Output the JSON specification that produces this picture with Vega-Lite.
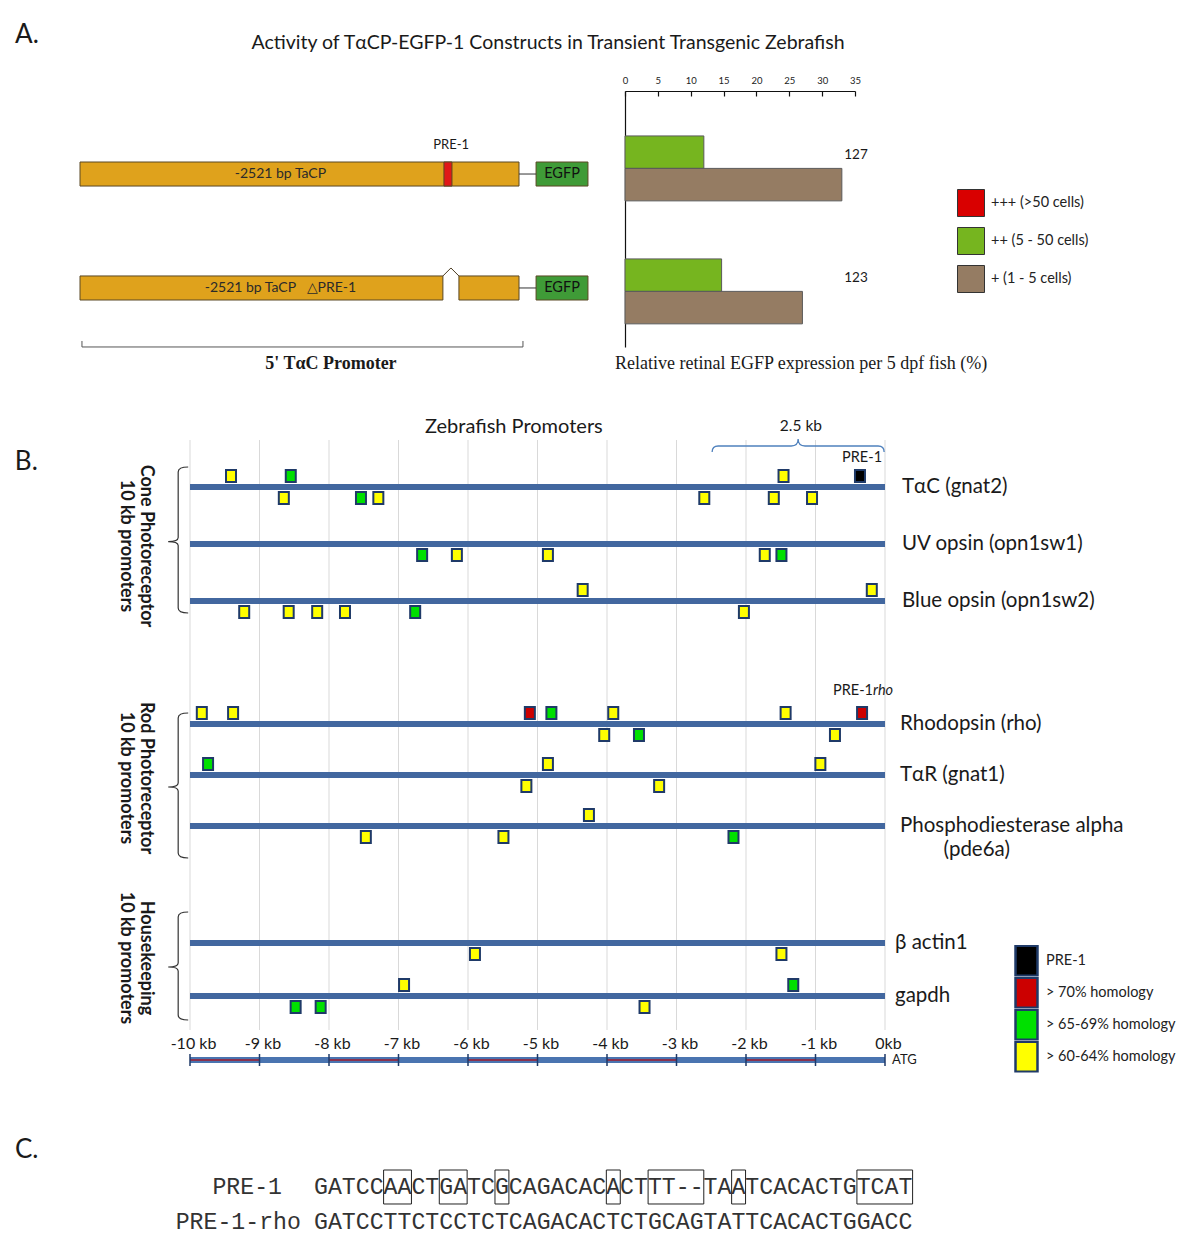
{
"$schema":"https://vega.github.io/schema/vega-lite/v6.json",
"width":1200,"height":1247,
"autosize":{"type":"none"},
"padding":0,
"background":"white",
"config":{"view":{"stroke":null},"font":"Lato","text":{"font":"Lato","color":"#1a1a1a"}},
"datasets":{
 "parts":[
  {"construct":"TαCP-EGFP-1","part":"promoter","start":-2521,"end":0},
  {"construct":"TαCP-EGFP-1","part":"PRE-1","start":-431,"end":-385},
  {"construct":"TαCP-EGFP-1","part":"EGFP","start":98,"end":396},
  {"construct":"TαCP-ΔPRE-1-EGFP-1","part":"promoter","start":-2521,"end":-437},
  {"construct":"TαCP-ΔPRE-1-EGFP-1","part":"promoter","start":-345,"end":0},
  {"construct":"TαCP-ΔPRE-1-EGFP-1","part":"EGFP","start":98,"end":396}
 ],
 "constructs":[
  {"construct":"TαCP-EGFP-1","label":"-2521 bp TaCP","deleted":false,"n":127},
  {"construct":"TαCP-ΔPRE-1-EGFP-1","label":"-2521 bp TaCP\u2003△PRE-1","deleted":true,"n":123}
 ],
 "bars":[
  {"construct":"TαCP-EGFP-1","level":"++ (5 - 50 cells)","pct":12.0},
  {"construct":"TαCP-EGFP-1","level":"+ (1 - 5 cells)","pct":33.0},
  {"construct":"TαCP-ΔPRE-1-EGFP-1","level":"++ (5 - 50 cells)","pct":14.7},
  {"construct":"TαCP-ΔPRE-1-EGFP-1","level":"+ (1 - 5 cells)","pct":27.0}
 ],
 "genes":[
  {"gene":"TαC (gnat2)","group":"cone"},
  {"gene":"UV opsin (opn1sw1)","group":"cone"},
  {"gene":"Blue opsin (opn1sw2)","group":"cone"},
  {"gene":"Rhodopsin (rho)","group":"rod"},
  {"gene":"TαR (gnat1)","group":"rod"},
  {"gene":"Phosphodiesterase alpha","group":"rod"},
  {"gene":"β actin1","group":"housekeeping"},
  {"gene":"gapdh","group":"housekeeping"}
 ],
 "sites":[
  {"gene":"TαC (gnat2)","group":"cone","kb":-9.41,"strand":"above","homology":"> 60-64% homology"},
  {"gene":"TαC (gnat2)","group":"cone","kb":-8.55,"strand":"above","homology":"> 65-69% homology"},
  {"gene":"TαC (gnat2)","group":"cone","kb":-1.46,"strand":"above","homology":"> 60-64% homology"},
  {"gene":"TαC (gnat2)","group":"cone","kb":-0.36,"strand":"above","homology":"PRE-1"},
  {"gene":"TαC (gnat2)","group":"cone","kb":-8.65,"strand":"below","homology":"> 60-64% homology"},
  {"gene":"TαC (gnat2)","group":"cone","kb":-7.54,"strand":"below","homology":"> 65-69% homology"},
  {"gene":"TαC (gnat2)","group":"cone","kb":-7.29,"strand":"below","homology":"> 60-64% homology"},
  {"gene":"TαC (gnat2)","group":"cone","kb":-2.60,"strand":"below","homology":"> 60-64% homology"},
  {"gene":"TαC (gnat2)","group":"cone","kb":-1.60,"strand":"below","homology":"> 60-64% homology"},
  {"gene":"TαC (gnat2)","group":"cone","kb":-1.05,"strand":"below","homology":"> 60-64% homology"},
  {"gene":"UV opsin (opn1sw1)","group":"cone","kb":-6.66,"strand":"below","homology":"> 65-69% homology"},
  {"gene":"UV opsin (opn1sw1)","group":"cone","kb":-6.16,"strand":"below","homology":"> 60-64% homology"},
  {"gene":"UV opsin (opn1sw1)","group":"cone","kb":-4.85,"strand":"below","homology":"> 60-64% homology"},
  {"gene":"UV opsin (opn1sw1)","group":"cone","kb":-1.73,"strand":"below","homology":"> 60-64% homology"},
  {"gene":"UV opsin (opn1sw1)","group":"cone","kb":-1.49,"strand":"below","homology":"> 65-69% homology"},
  {"gene":"Blue opsin (opn1sw2)","group":"cone","kb":-4.35,"strand":"above","homology":"> 60-64% homology"},
  {"gene":"Blue opsin (opn1sw2)","group":"cone","kb":-0.19,"strand":"above","homology":"> 60-64% homology"},
  {"gene":"Blue opsin (opn1sw2)","group":"cone","kb":-9.22,"strand":"below","homology":"> 60-64% homology"},
  {"gene":"Blue opsin (opn1sw2)","group":"cone","kb":-8.58,"strand":"below","homology":"> 60-64% homology"},
  {"gene":"Blue opsin (opn1sw2)","group":"cone","kb":-8.17,"strand":"below","homology":"> 60-64% homology"},
  {"gene":"Blue opsin (opn1sw2)","group":"cone","kb":-7.77,"strand":"below","homology":"> 60-64% homology"},
  {"gene":"Blue opsin (opn1sw2)","group":"cone","kb":-6.76,"strand":"below","homology":"> 65-69% homology"},
  {"gene":"Blue opsin (opn1sw2)","group":"cone","kb":-2.03,"strand":"below","homology":"> 60-64% homology"},
  {"gene":"Rhodopsin (rho)","group":"rod","kb":-9.83,"strand":"above","homology":"> 60-64% homology"},
  {"gene":"Rhodopsin (rho)","group":"rod","kb":-9.38,"strand":"above","homology":"> 60-64% homology"},
  {"gene":"Rhodopsin (rho)","group":"rod","kb":-5.11,"strand":"above","homology":"> 70% homology"},
  {"gene":"Rhodopsin (rho)","group":"rod","kb":-4.80,"strand":"above","homology":"> 65-69% homology"},
  {"gene":"Rhodopsin (rho)","group":"rod","kb":-3.91,"strand":"above","homology":"> 60-64% homology"},
  {"gene":"Rhodopsin (rho)","group":"rod","kb":-1.43,"strand":"above","homology":"> 60-64% homology"},
  {"gene":"Rhodopsin (rho)","group":"rod","kb":-0.33,"strand":"above","homology":"> 70% homology"},
  {"gene":"Rhodopsin (rho)","group":"rod","kb":-4.04,"strand":"below","homology":"> 60-64% homology"},
  {"gene":"Rhodopsin (rho)","group":"rod","kb":-3.54,"strand":"below","homology":"> 65-69% homology"},
  {"gene":"Rhodopsin (rho)","group":"rod","kb":-0.72,"strand":"below","homology":"> 60-64% homology"},
  {"gene":"TαR (gnat1)","group":"rod","kb":-9.74,"strand":"above","homology":"> 65-69% homology"},
  {"gene":"TαR (gnat1)","group":"rod","kb":-4.85,"strand":"above","homology":"> 60-64% homology"},
  {"gene":"TαR (gnat1)","group":"rod","kb":-0.93,"strand":"above","homology":"> 60-64% homology"},
  {"gene":"TαR (gnat1)","group":"rod","kb":-5.16,"strand":"below","homology":"> 60-64% homology"},
  {"gene":"TαR (gnat1)","group":"rod","kb":-3.25,"strand":"below","homology":"> 60-64% homology"},
  {"gene":"Phosphodiesterase alpha","group":"rod","kb":-4.26,"strand":"above","homology":"> 60-64% homology"},
  {"gene":"Phosphodiesterase alpha","group":"rod","kb":-7.47,"strand":"below","homology":"> 60-64% homology"},
  {"gene":"Phosphodiesterase alpha","group":"rod","kb":-5.49,"strand":"below","homology":"> 60-64% homology"},
  {"gene":"Phosphodiesterase alpha","group":"rod","kb":-2.18,"strand":"below","homology":"> 65-69% homology"},
  {"gene":"β actin1","group":"housekeeping","kb":-5.90,"strand":"below","homology":"> 60-64% homology"},
  {"gene":"β actin1","group":"housekeeping","kb":-1.49,"strand":"below","homology":"> 60-64% homology"},
  {"gene":"gapdh","group":"housekeeping","kb":-6.92,"strand":"above","homology":"> 60-64% homology"},
  {"gene":"gapdh","group":"housekeeping","kb":-1.32,"strand":"above","homology":"> 65-69% homology"},
  {"gene":"gapdh","group":"housekeeping","kb":-8.48,"strand":"below","homology":"> 65-69% homology"},
  {"gene":"gapdh","group":"housekeeping","kb":-8.12,"strand":"below","homology":"> 65-69% homology"},
  {"gene":"gapdh","group":"housekeeping","kb":-3.46,"strand":"below","homology":"> 60-64% homology"}
 ],
 "rulerRed":[{"start":-10,"end":-9},{"start":-8,"end":-7},{"start":-6,"end":-5},{"start":-4,"end":-3},{"start":-2,"end":-1}],
 "kbMarks":[{"kb":-10},{"kb":-9},{"kb":-8},{"kb":-7},{"kb":-6},{"kb":-5},{"kb":-4},{"kb":-3},{"kb":-2},{"kb":-1},{"kb":0}],
 "seqs":[
  {"name":"PRE-1","seq":"GATCCAACTGATCGCAGACACACTTT--TAATCACACTGTCAT"},
  {"name":"PRE-1-rho","seq":"GATCCTTCTCCTCTCAGACACTCTGCAGTATTCACACTGGACC"}
 ],
 "boxes":[{"start":5,"end":7},{"start":9,"end":11},{"start":13,"end":14},{"start":21,"end":22},{"start":24,"end":28},{"start":30,"end":31},{"start":39,"end":43}]
},
"resolve":{
 "scale":{"x":"independent","y":"independent","color":"independent","fill":"independent","shape":"independent","yOffset":"independent"},
 "axis":{"x":"independent","y":"independent"},
 "legend":{"color":"independent","fill":"independent","shape":"independent"}
},
"layer":[
 {"layer":[
  {"data":{"name":"parts"},
   "mark":{"type":"rect","stroke":"#5a4824","strokeWidth":1},
   "encoding":{
    "x":{"field":"start","type":"quantitative","scale":{"domain":[-2521,0],"range":[80,519],"nice":false,"zero":false},"axis":null},
    "x2":{"field":"end"},
    "y":{"field":"construct","type":"nominal","scale":{"type":"band","domain":["TαCP-EGFP-1","TαCP-ΔPRE-1-EGFP-1"],"range":[162,300],"paddingInner":0.789,"paddingOuter":0},"axis":null},
    "color":{"field":"part","type":"nominal","scale":{"domain":["promoter","PRE-1","EGFP"],"range":["#dfa21c","#e01818","#3f9b37"]},"legend":null}}},
  {"data":{"name":"constructs"},
   "mark":{"type":"rule","color":"#333333","strokeWidth":1},
   "encoding":{
    "x":{"datum":0,"type":"quantitative","scale":{"domain":[-2521,0],"range":[80,519],"nice":false,"zero":false},"axis":null},
    "x2":{"datum":98},
    "y":{"field":"construct","type":"nominal","scale":{"type":"band","domain":["TαCP-EGFP-1","TαCP-ΔPRE-1-EGFP-1"],"range":[162,300],"paddingInner":0.789,"paddingOuter":0},"axis":null}}},
  {"data":{"name":"constructs"},
   "mark":{"type":"text","fontSize":14,"color":"#2a2a2a"},
   "encoding":{
    "x":{"datum":-1370,"type":"quantitative","scale":{"domain":[-2521,0],"range":[80,519],"nice":false,"zero":false},"axis":null},
    "y":{"field":"construct","type":"nominal","scale":{"type":"band","domain":["TαCP-EGFP-1","TαCP-ΔPRE-1-EGFP-1"],"range":[162,300],"paddingInner":0.789,"paddingOuter":0},"axis":null},
    "text":{"field":"label"}}},
  {"data":{"name":"constructs"},
   "mark":{"type":"text","fontSize":14.5,"color":"#111111","text":"EGFP"},
   "encoding":{
    "x":{"datum":247,"type":"quantitative","scale":{"domain":[-2521,0],"range":[80,519],"nice":false,"zero":false},"axis":null},
    "y":{"field":"construct","type":"nominal","scale":{"type":"band","domain":["TαCP-EGFP-1","TαCP-ΔPRE-1-EGFP-1"],"range":[162,300],"paddingInner":0.789,"paddingOuter":0},"axis":null}}},
  {"data":{"name":"constructs"},
   "transform":[{"filter":"datum.deleted"}],
   "mark":{"type":"point","shape":"M-0.4,-0.6L0,-1L0.4,-0.6","size":1600,"filled":false,"opacity":1,"color":"#4a3a20","strokeWidth":1},
   "encoding":{
    "x":{"datum":-391,"type":"quantitative","scale":{"domain":[-2521,0],"range":[80,519],"nice":false,"zero":false},"axis":null},
    "y":{"field":"construct","type":"nominal","scale":{"type":"band","domain":["TαCP-EGFP-1","TαCP-ΔPRE-1-EGFP-1"],"range":[162,300],"paddingInner":0.789,"paddingOuter":0},"axis":null}}},
  {"data":{"values":[{"t":"PRE-1"}]},
   "mark":{"type":"text","fontSize":13,"dy":-29},
   "encoding":{
    "x":{"datum":-390,"type":"quantitative","scale":{"domain":[-2521,0],"range":[80,519],"nice":false,"zero":false},"axis":null},
    "y":{"datum":"TαCP-EGFP-1","type":"nominal","scale":{"type":"band","domain":["TαCP-EGFP-1","TαCP-ΔPRE-1-EGFP-1"],"range":[162,300],"paddingInner":0.789,"paddingOuter":0},"axis":null},
    "text":{"field":"t"}}},
  {"data":{"values":[{"t":"A."}]},
   "mark":{"type":"text","fontSize":26,"align":"left","dy":-139},
   "encoding":{
    "x":{"datum":-2894,"type":"quantitative","scale":{"domain":[-2521,0],"range":[80,519],"nice":false,"zero":false},"axis":null},
    "y":{"datum":"TαCP-EGFP-1","type":"nominal","scale":{"type":"band","domain":["TαCP-EGFP-1","TαCP-ΔPRE-1-EGFP-1"],"range":[162,300],"paddingInner":0.789,"paddingOuter":0},"axis":null},
    "text":{"field":"t"}}},
  {"data":{"values":[{"t":"Activity of TαCP-EGFP-1 Constructs in Transient Transgenic Zebrafish"}]},
   "mark":{"type":"text","fontSize":19.5,"dy":-131},
   "encoding":{
    "x":{"datum":166.5,"type":"quantitative","scale":{"domain":[-2521,0],"range":[80,519],"nice":false,"zero":false},"axis":null},
    "y":{"datum":"TαCP-EGFP-1","type":"nominal","scale":{"type":"band","domain":["TαCP-EGFP-1","TαCP-ΔPRE-1-EGFP-1"],"range":[162,300],"paddingInner":0.789,"paddingOuter":0},"axis":null},
    "text":{"field":"t"}}},
  {"data":{"values":[{"t":"5' TαC Promoter"}]},
   "mark":{"type":"text","font":"Liberation Serif","fontWeight":"bold","fontSize":18,"dy":76},
   "encoding":{
    "x":{"datum":-1080,"type":"quantitative","scale":{"domain":[-2521,0],"range":[80,519],"nice":false,"zero":false},"axis":null},
    "y":{"datum":"TαCP-ΔPRE-1-EGFP-1","type":"nominal","scale":{"type":"band","domain":["TαCP-EGFP-1","TαCP-ΔPRE-1-EGFP-1"],"range":[162,300],"paddingInner":0.789,"paddingOuter":0},"axis":null},
    "text":{"field":"t"}}},
  {"data":{"values":[{"t":"5' TαC Promoter"}]},
   "mark":{"type":"point","shape":"M-1,0.2404V0.2676H1V0.2404","size":194481,"filled":false,"opacity":1,"color":"#555555","strokeWidth":1},
   "encoding":{
    "x":{"datum":-1243.5,"type":"quantitative","scale":{"domain":[-2521,0],"range":[80,519],"nice":false,"zero":false},"axis":null},
    "y":{"datum":"TαCP-ΔPRE-1-EGFP-1","type":"nominal","scale":{"type":"band","domain":["TαCP-EGFP-1","TαCP-ΔPRE-1-EGFP-1"],"range":[162,300],"paddingInner":0.789,"paddingOuter":0},"axis":null}}}
 ]},
 {"layer":[
  {"data":{"name":"bars"},
   "mark":{"type":"bar","stroke":"#5a5a5a","strokeWidth":1},
   "encoding":{
    "x":{"field":"pct","type":"quantitative","scale":{"domain":[0,35],"range":[625,855],"nice":false,"zero":true},
     "axis":{"orient":"top","offset":-91,"values":[0,5,10,15,20,25,30,35],"grid":false,"domainColor":"#111111","domainWidth":1.2,"tickColor":"#111111","tickSize":-5,"tickWidth":1.2,"labelFontSize":9.5,"labelFont":"Lato","labelColor":"#222222","labelPadding":11,"labelFlush":false,"labelOverlap":false,"title":null}},
    "y":{"field":"construct","type":"nominal","scale":{"type":"band","domain":["TαCP-EGFP-1","TαCP-ΔPRE-1-EGFP-1"],"range":[91,347],"paddingInner":0.472,"paddingOuter":0.2767,"align":0.66},
     "axis":{"orient":"left","offset":-625,"labels":false,"ticks":false,"grid":false,"domainColor":"#111111","domainWidth":1.2,"title":null}},
    "yOffset":{"field":"level","type":"nominal","scale":{"domain":["++ (5 - 50 cells)","+ (1 - 5 cells)"],"paddingInner":0,"paddingOuter":0}},
    "color":{"field":"level","type":"nominal","scale":{"domain":["+++ (>50 cells)","++ (5 - 50 cells)","+ (1 - 5 cells)"],"range":["#d90000","#76b51f","#957c63"]},
     "legend":{"orient":"none","legendX":957,"legendY":189,"title":null,"symbolType":"square","symbolSize":729,"symbolStrokeColor":"#333333","symbolStrokeWidth":1,"symbolOpacity":1,"labelFontSize":14.5,"labelFont":"Lato","labelColor":"#222222","rowPadding":6,"labelOffset":6,"padding":0}}}},
  {"data":{"name":"constructs"},
   "mark":{"type":"text","fontSize":13.5,"dy":-13},
   "encoding":{
    "x":{"datum":35.15,"type":"quantitative","scale":{"domain":[0,35],"range":[625,855],"nice":false,"zero":true}},
    "y":{"field":"construct","type":"nominal","scale":{"type":"band","domain":["TαCP-EGFP-1","TαCP-ΔPRE-1-EGFP-1"],"range":[91,347],"paddingInner":0.472,"paddingOuter":0.2767,"align":0.66}},
    "text":{"field":"n"}}},
  {"data":{"values":[{"t":"Relative retinal EGFP expression per 5 dpf fish (%)"}]},
   "mark":{"type":"text","font":"Liberation Serif","fontSize":18,"dy":73},
   "encoding":{
    "x":{"datum":26.8,"type":"quantitative","scale":{"domain":[0,35],"range":[625,855],"nice":false,"zero":true}},
    "y":{"datum":"TαCP-ΔPRE-1-EGFP-1","type":"nominal","scale":{"type":"band","domain":["TαCP-EGFP-1","TαCP-ΔPRE-1-EGFP-1"],"range":[91,347],"paddingInner":0.472,"paddingOuter":0.2767,"align":0.66}},
    "text":{"field":"t"}}}
 ]},
 {"layer":[
  {"data":{"name":"kbMarks"},
   "mark":{"type":"rule","color":"#d9d9d9","strokeWidth":1},
   "encoding":{
    "x":{"field":"kb","type":"quantitative","scale":{"domain":[-10,0],"range":[190,885],"nice":false,"zero":false},
     "axis":{"orient":"bottom","offset":-215,"values":[-10,-9,-8,-7,-6,-5,-4,-3,-2,-1,0],"labelExpr":"datum.value === 0 ? '0kb' : datum.value + ' kb'","domain":false,"ticks":false,"grid":false,"labelFontSize":16,"labelFont":"Lato","labelColor":"#1a1a1a","labelPadding":3,"labelOffset":3,"labelFlush":false,"labelOverlap":false,"labelBound":false,"title":null}},
    "y":{"datum":"top","type":"nominal","scale":{"type":"point","domain":["top","bottom"],"range":[440,1030],"padding":0},"axis":null},
    "y2":{"datum":"bottom"}}}
 ]},
 {"layer":[
  {"data":{"name":"genes"},
   "transform":[{"filter":"datum.group === 'cone'"}],
   "mark":{"type":"rule","strokeWidth":6,"color":"#42679f"},
   "encoding":{
    "x":{"datum":-10,"type":"quantitative","scale":{"domain":[-10,0],"range":[190,885],"nice":false,"zero":false},"axis":null},
    "x2":{"datum":0},
    "y":{"field":"gene","type":"nominal","scale":{"type":"point","domain":["TαC (gnat2)","UV opsin (opn1sw1)","Blue opsin (opn1sw2)"],"range":[487,601],"padding":0},"axis":null}}},
  {"data":{"name":"sites"},
   "transform":[{"filter":"datum.group === 'cone'"}],
   "mark":{"type":"point","filled":true,"opacity":1,"size":1600,"stroke":"#1f3a68","strokeWidth":2},
   "encoding":{
    "x":{"field":"kb","type":"quantitative","scale":{"domain":[-10,0],"range":[190,885],"nice":false,"zero":false},"axis":null},
    "y":{"field":"gene","type":"nominal","scale":{"type":"point","domain":["TαC (gnat2)","UV opsin (opn1sw1)","Blue opsin (opn1sw2)"],"range":[487,601],"padding":0},"axis":null},
    "shape":{"field":"strand","type":"nominal","scale":{"domain":["above","below"],"range":["M-0.25,-0.85H0.25V-0.25H-0.25Z","M-0.25,0.25H0.25V0.85H-0.25Z"]},"legend":null},
    "fill":{"field":"homology","type":"nominal","scale":{"domain":["PRE-1","> 70% homology","> 65-69% homology","> 60-64% homology"],"range":["#000000","#cc0000","#00e000","#ffff00"]},
     "legend":{"orient":"none","legendX":1010,"legendY":945,"title":null,"symbolType":"M-0.733,-1H0.733V1H-0.733Z","symbolSize":900,"symbolStrokeColor":"#1f3a68","symbolStrokeWidth":2.5,"symbolOpacity":1,"labelFontSize":14.5,"labelFont":"Lato","labelColor":"#222222","labelOffset":3,"rowPadding":0,"clipHeight":31.6,"padding":0}}}},
  {"data":{"name":"genes"},
   "transform":[{"filter":"datum.group === 'cone'"}],
   "mark":{"type":"text","align":"left","dx":17,"fontSize":20.5,"color":"#1a1a1a"},
   "encoding":{
    "x":{"datum":0,"type":"quantitative","scale":{"domain":[-10,0],"range":[190,885],"nice":false,"zero":false},"axis":null},
    "y":{"field":"gene","type":"nominal","scale":{"type":"point","domain":["TαC (gnat2)","UV opsin (opn1sw1)","Blue opsin (opn1sw2)"],"range":[487,601],"padding":0},"axis":null},
    "text":{"field":"gene"}}},
  {"data":{"values":[{"t":"B."}]},
   "mark":{"type":"text","fontSize":26,"align":"left","dy":-25},
   "encoding":{
    "x":{"datum":-12.52,"type":"quantitative","scale":{"domain":[-10,0],"range":[190,885],"nice":false,"zero":false},"axis":null},
    "y":{"datum":"TαC (gnat2)","type":"nominal","scale":{"type":"point","domain":["TαC (gnat2)","UV opsin (opn1sw1)","Blue opsin (opn1sw2)"],"range":[487,601],"padding":0},"axis":null},
    "text":{"field":"t"}}},
  {"data":{"values":[{"t":"Zebrafish Promoters"}]},
   "mark":{"type":"text","fontSize":20,"dy":-60},
   "encoding":{
    "x":{"datum":-5.34,"type":"quantitative","scale":{"domain":[-10,0],"range":[190,885],"nice":false,"zero":false},"axis":null},
    "y":{"datum":"TαC (gnat2)","type":"nominal","scale":{"type":"point","domain":["TαC (gnat2)","UV opsin (opn1sw1)","Blue opsin (opn1sw2)"],"range":[487,601],"padding":0},"axis":null},
    "text":{"field":"t"}}},
  {"data":{"values":[{"t":"2.5 kb"}]},
   "mark":{"type":"text","fontSize":15.5,"dy":-61},
   "encoding":{
    "x":{"datum":-1.21,"type":"quantitative","scale":{"domain":[-10,0],"range":[190,885],"nice":false,"zero":false},"axis":null},
    "y":{"datum":"TαC (gnat2)","type":"nominal","scale":{"type":"point","domain":["TαC (gnat2)","UV opsin (opn1sw1)","Blue opsin (opn1sw2)"],"range":[487,601],"padding":0},"axis":null},
    "text":{"field":"t"}}},
  {"data":{"values":[{"t":"2.5 kb"}]},
   "mark":{"type":"point","shape":"M-1,0.07Q-1,0,-0.93,0H-0.08Q0,0,0,-0.08Q0,0,0.08,0H0.93Q1,0,1,0.07","size":29584,"filled":false,"opacity":1,"color":"#4f81bd","strokeWidth":1.3,"yOffset":-41},
   "encoding":{
    "x":{"datum":-1.25,"type":"quantitative","scale":{"domain":[-10,0],"range":[190,885],"nice":false,"zero":false},"axis":null},
    "y":{"datum":"TαC (gnat2)","type":"nominal","scale":{"type":"point","domain":["TαC (gnat2)","UV opsin (opn1sw1)","Blue opsin (opn1sw2)"],"range":[487,601],"padding":0},"axis":null}}},
  {"data":{"values":[{"t":"PRE-1"}]},
   "mark":{"type":"text","fontSize":14.5,"dy":-29},
   "encoding":{
    "x":{"datum":-0.33,"type":"quantitative","scale":{"domain":[-10,0],"range":[190,885],"nice":false,"zero":false},"axis":null},
    "y":{"datum":"TαC (gnat2)","type":"nominal","scale":{"type":"point","domain":["TαC (gnat2)","UV opsin (opn1sw1)","Blue opsin (opn1sw2)"],"range":[487,601],"padding":0},"axis":null},
    "text":{"field":"t"}}},
  {"data":{"values":[{"t":"cone"}]},
   "mark":{"type":"point","shape":"M0.125,-0.9625Q0,-0.9625,0,-0.9V-0.08Q0,-0.03,-0.125,-0.03Q0,-0.03,0,0.02V0.8Q0,0.8625,0.125,0.8625","size":25600,"filled":false,"opacity":1,"color":"#333333","strokeWidth":1.2},
   "encoding":{
    "x":{"datum":-10.17,"type":"quantitative","scale":{"domain":[-10,0],"range":[190,885],"nice":false,"zero":false},"axis":null},
    "y":{"datum":"UV opsin (opn1sw1)","type":"nominal","scale":{"type":"point","domain":["TαC (gnat2)","UV opsin (opn1sw1)","Blue opsin (opn1sw2)"],"range":[487,601],"padding":0},"axis":null}}},
  {"data":{"values":[{"t":"cone"}]},
   "mark":{"type":"text","text":["Cone Photoreceptor","10 kb promoters"],"angle":90,"fontSize":18,"fontWeight":"bold","lineHeight":20,"dx":2,"color":"#1a1a1a"},
   "encoding":{
    "x":{"datum":-10.633,"type":"quantitative","scale":{"domain":[-10,0],"range":[190,885],"nice":false,"zero":false},"axis":null},
    "y":{"datum":"UV opsin (opn1sw1)","type":"nominal","scale":{"type":"point","domain":["TαC (gnat2)","UV opsin (opn1sw1)","Blue opsin (opn1sw2)"],"range":[487,601],"padding":0},"axis":null}}}
 ]},
 {"layer":[
  {"data":{"name":"genes"},
   "transform":[{"filter":"datum.group === 'rod'"}],
   "mark":{"type":"rule","strokeWidth":6,"color":"#42679f"},
   "encoding":{
    "x":{"datum":-10,"type":"quantitative","scale":{"domain":[-10,0],"range":[190,885],"nice":false,"zero":false},"axis":null},
    "x2":{"datum":0},
    "y":{"field":"gene","type":"nominal","scale":{"type":"point","domain":["Rhodopsin (rho)","TαR (gnat1)","Phosphodiesterase alpha"],"range":[724,826],"padding":0},"axis":null}}},
  {"data":{"name":"sites"},
   "transform":[{"filter":"datum.group === 'rod'"}],
   "mark":{"type":"point","filled":true,"opacity":1,"size":1600,"stroke":"#1f3a68","strokeWidth":2},
   "encoding":{
    "x":{"field":"kb","type":"quantitative","scale":{"domain":[-10,0],"range":[190,885],"nice":false,"zero":false},"axis":null},
    "y":{"field":"gene","type":"nominal","scale":{"type":"point","domain":["Rhodopsin (rho)","TαR (gnat1)","Phosphodiesterase alpha"],"range":[724,826],"padding":0},"axis":null},
    "shape":{"field":"strand","type":"nominal","scale":{"domain":["above","below"],"range":["M-0.25,-0.85H0.25V-0.25H-0.25Z","M-0.25,0.25H0.25V0.85H-0.25Z"]},"legend":null},
    "fill":{"field":"homology","type":"nominal","scale":{"domain":["PRE-1","> 70% homology","> 65-69% homology","> 60-64% homology"],"range":["#000000","#cc0000","#00e000","#ffff00"]},"legend":null}}},
  {"data":{"name":"genes"},
   "transform":[{"filter":"datum.group === 'rod'"}],
   "mark":{"type":"text","align":"left","dx":15,"fontSize":20.5,"color":"#1a1a1a"},
   "encoding":{
    "x":{"datum":0,"type":"quantitative","scale":{"domain":[-10,0],"range":[190,885],"nice":false,"zero":false},"axis":null},
    "y":{"field":"gene","type":"nominal","scale":{"type":"point","domain":["Rhodopsin (rho)","TαR (gnat1)","Phosphodiesterase alpha"],"range":[724,826],"padding":0},"axis":null},
    "text":{"field":"gene"}}},
  {"data":{"values":[{"t":"PRE-1"}]},
   "mark":{"type":"text","fontSize":14.5,"align":"right","dy":-33},
   "encoding":{
    "x":{"datum":-0.173,"type":"quantitative","scale":{"domain":[-10,0],"range":[190,885],"nice":false,"zero":false},"axis":null},
    "y":{"datum":"Rhodopsin (rho)","type":"nominal","scale":{"type":"point","domain":["Rhodopsin (rho)","TαR (gnat1)","Phosphodiesterase alpha"],"range":[724,826],"padding":0},"axis":null},
    "text":{"field":"t"}}},
  {"data":{"values":[{"t":"rho"}]},
   "mark":{"type":"text","fontSize":14.5,"align":"left","fontStyle":"italic","dy":-33},
   "encoding":{
    "x":{"datum":-0.173,"type":"quantitative","scale":{"domain":[-10,0],"range":[190,885],"nice":false,"zero":false},"axis":null},
    "y":{"datum":"Rhodopsin (rho)","type":"nominal","scale":{"type":"point","domain":["Rhodopsin (rho)","TαR (gnat1)","Phosphodiesterase alpha"],"range":[724,826],"padding":0},"axis":null},
    "text":{"field":"t"}}},
  {"data":{"values":[{"t":"(pde6a)"}]},
   "mark":{"type":"text","fontSize":20.5,"dy":24,"color":"#1a1a1a"},
   "encoding":{
    "x":{"datum":1.32,"type":"quantitative","scale":{"domain":[-10,0],"range":[190,885],"nice":false,"zero":false},"axis":null},
    "y":{"datum":"Phosphodiesterase alpha","type":"nominal","scale":{"type":"point","domain":["Rhodopsin (rho)","TαR (gnat1)","Phosphodiesterase alpha"],"range":[724,826],"padding":0},"axis":null},
    "text":{"field":"t"}}},
  {"data":{"values":[{"t":"rod"}]},
   "mark":{"type":"point","shape":"M0.125,-0.775Q0,-0.775,0,-0.7125V0.1Q0,0.15,-0.125,0.15Q0,0.15,0,0.2V0.975Q0,1.0375,0.125,1.0375","size":25600,"filled":false,"opacity":1,"color":"#333333","strokeWidth":1.2},
   "encoding":{
    "x":{"datum":-10.17,"type":"quantitative","scale":{"domain":[-10,0],"range":[190,885],"nice":false,"zero":false},"axis":null},
    "y":{"datum":"TαR (gnat1)","type":"nominal","scale":{"type":"point","domain":["Rhodopsin (rho)","TαR (gnat1)","Phosphodiesterase alpha"],"range":[724,826],"padding":0},"axis":null}}},
  {"data":{"values":[{"t":"rod"}]},
   "mark":{"type":"text","text":["Rod Photoreceptor","10 kb promoters"],"angle":90,"fontSize":18,"fontWeight":"bold","lineHeight":20,"dx":3,"color":"#1a1a1a"},
   "encoding":{
    "x":{"datum":-10.633,"type":"quantitative","scale":{"domain":[-10,0],"range":[190,885],"nice":false,"zero":false},"axis":null},
    "y":{"datum":"TαR (gnat1)","type":"nominal","scale":{"type":"point","domain":["Rhodopsin (rho)","TαR (gnat1)","Phosphodiesterase alpha"],"range":[724,826],"padding":0},"axis":null}}}
 ]},
 {"layer":[
  {"data":{"name":"genes"},
   "transform":[{"filter":"datum.group === 'housekeeping'"}],
   "mark":{"type":"rule","strokeWidth":6,"color":"#42679f"},
   "encoding":{
    "x":{"datum":-10,"type":"quantitative","scale":{"domain":[-10,0],"range":[190,885],"nice":false,"zero":false},"axis":null},
    "x2":{"datum":0},
    "y":{"field":"gene","type":"nominal","scale":{"type":"point","domain":["β actin1","gapdh"],"range":[943,996],"padding":0},"axis":null}}},
  {"data":{"name":"sites"},
   "transform":[{"filter":"datum.group === 'housekeeping'"}],
   "mark":{"type":"point","filled":true,"opacity":1,"size":1600,"stroke":"#1f3a68","strokeWidth":2},
   "encoding":{
    "x":{"field":"kb","type":"quantitative","scale":{"domain":[-10,0],"range":[190,885],"nice":false,"zero":false},"axis":null},
    "y":{"field":"gene","type":"nominal","scale":{"type":"point","domain":["β actin1","gapdh"],"range":[943,996],"padding":0},"axis":null},
    "shape":{"field":"strand","type":"nominal","scale":{"domain":["above","below"],"range":["M-0.25,-0.85H0.25V-0.25H-0.25Z","M-0.25,0.25H0.25V0.85H-0.25Z"]},"legend":null},
    "fill":{"field":"homology","type":"nominal","scale":{"domain":["PRE-1","> 70% homology","> 65-69% homology","> 60-64% homology"],"range":["#000000","#cc0000","#00e000","#ffff00"]},"legend":null}}},
  {"data":{"name":"genes"},
   "transform":[{"filter":"datum.group === 'housekeeping'"}],
   "mark":{"type":"text","align":"left","dx":10,"fontSize":20.5,"color":"#1a1a1a"},
   "encoding":{
    "x":{"datum":0,"type":"quantitative","scale":{"domain":[-10,0],"range":[190,885],"nice":false,"zero":false},"axis":null},
    "y":{"field":"gene","type":"nominal","scale":{"type":"point","domain":["β actin1","gapdh"],"range":[943,996],"padding":0},"axis":null},
    "text":{"field":"gene"}}},
  {"data":{"values":[{"t":"housekeeping"}]},
   "mark":{"type":"point","shape":"M0.125,-0.3875Q0,-0.3875,0,-0.325V0.25Q0,0.3,-0.125,0.3Q0,0.3,0,0.35V0.9Q0,0.9625,0.125,0.9625","size":25600,"filled":false,"opacity":1,"color":"#333333","strokeWidth":1.2},
   "encoding":{
    "x":{"datum":-10.17,"type":"quantitative","scale":{"domain":[-10,0],"range":[190,885],"nice":false,"zero":false},"axis":null},
    "y":{"datum":"β actin1","type":"nominal","scale":{"type":"point","domain":["β actin1","gapdh"],"range":[943,996],"padding":0},"axis":null}}},
  {"data":{"values":[{"t":"housekeeping"}]},
   "mark":{"type":"text","text":["Housekeeping","10 kb promoters"],"angle":90,"fontSize":18,"fontWeight":"bold","lineHeight":20,"dx":15,"color":"#1a1a1a"},
   "encoding":{
    "x":{"datum":-10.633,"type":"quantitative","scale":{"domain":[-10,0],"range":[190,885],"nice":false,"zero":false},"axis":null},
    "y":{"datum":"β actin1","type":"nominal","scale":{"type":"point","domain":["β actin1","gapdh"],"range":[943,996],"padding":0},"axis":null}}}
 ]},
 {"layer":[
  {"data":{"values":[{"track":"ruler"}]},
   "mark":{"type":"rule","strokeWidth":6,"color":"#4a74b0"},
   "encoding":{
    "x":{"datum":-10,"type":"quantitative","scale":{"domain":[-10,0],"range":[190,885],"nice":false,"zero":false},"axis":null},
    "x2":{"datum":0},
    "y":{"field":"track","type":"nominal","scale":{"type":"point","domain":["ruler"],"range":[1060,1060]},"axis":null}}},
  {"data":{"name":"rulerRed"},
   "mark":{"type":"rule","strokeWidth":1.6,"color":"#a01c2c"},
   "encoding":{
    "x":{"field":"start","type":"quantitative","scale":{"domain":[-10,0],"range":[190,885],"nice":false,"zero":false},"axis":null},
    "x2":{"field":"end"},
    "y":{"datum":"ruler","type":"nominal","scale":{"type":"point","domain":["ruler"],"range":[1060,1060]},"axis":null}}},
  {"data":{"name":"kbMarks"},
   "mark":{"type":"point","shape":"M0,-1V1","size":144,"filled":false,"opacity":1,"color":"#1f3a68","strokeWidth":1.5},
   "encoding":{
    "x":{"field":"kb","type":"quantitative","scale":{"domain":[-10,0],"range":[190,885],"nice":false,"zero":false},"axis":null},
    "y":{"datum":"ruler","type":"nominal","scale":{"type":"point","domain":["ruler"],"range":[1060,1060]},"axis":null}}},
  {"data":{"values":[{"t":"ATG"}]},
   "mark":{"type":"text","fontSize":13,"align":"left","dx":7},
   "encoding":{
    "x":{"datum":0,"type":"quantitative","scale":{"domain":[-10,0],"range":[190,885],"nice":false,"zero":false},"axis":null},
    "y":{"datum":"ruler","type":"nominal","scale":{"type":"point","domain":["ruler"],"range":[1060,1060]},"axis":null},
    "text":{"field":"t"}}}
 ]},
 {"layer":[
  {"data":{"name":"boxes"},
   "mark":{"type":"rect","filled":false,"color":"#222222","strokeWidth":1},
   "encoding":{
    "x":{"field":"start","type":"quantitative","scale":{"domain":[0,43],"range":[314,912.6],"nice":false,"zero":false},"axis":null},
    "x2":{"field":"end"},
    "y":{"datum":"PRE-1","type":"nominal","scale":{"type":"band","domain":["PRE-1","PRE-1-rho"],"range":[1170,1239],"paddingInner":0.0286,"paddingOuter":0},"axis":null}}},
  {"data":{"name":"seqs"},
   "mark":{"type":"text","align":"left","font":"Liberation Mono","fontSize":23.2,"color":"#333333"},
   "encoding":{
    "x":{"datum":0,"type":"quantitative","scale":{"domain":[0,43],"range":[314,912.6],"nice":false,"zero":false},"axis":null},
    "y":{"field":"name","type":"nominal","scale":{"type":"band","domain":["PRE-1","PRE-1-rho"],"range":[1170,1239],"paddingInner":0.0286,"paddingOuter":0},"axis":null},
    "text":{"field":"seq"}}},
  {"data":{"name":"seqs"},
   "transform":[{"filter":"datum.name === 'PRE-1'"}],
   "mark":{"type":"text","align":"right","font":"Liberation Mono","fontSize":23.2,"color":"#333333"},
   "encoding":{
    "x":{"datum":-2.3,"type":"quantitative","scale":{"domain":[0,43],"range":[314,912.6],"nice":false,"zero":false},"axis":null},
    "y":{"field":"name","type":"nominal","scale":{"type":"band","domain":["PRE-1","PRE-1-rho"],"range":[1170,1239],"paddingInner":0.0286,"paddingOuter":0},"axis":null},
    "text":{"field":"name"}}},
  {"data":{"name":"seqs"},
   "transform":[{"filter":"datum.name === 'PRE-1-rho'"}],
   "mark":{"type":"text","align":"right","font":"Liberation Mono","fontSize":23.2,"color":"#333333"},
   "encoding":{
    "x":{"datum":-0.94,"type":"quantitative","scale":{"domain":[0,43],"range":[314,912.6],"nice":false,"zero":false},"axis":null},
    "y":{"field":"name","type":"nominal","scale":{"type":"band","domain":["PRE-1","PRE-1-rho"],"range":[1170,1239],"paddingInner":0.0286,"paddingOuter":0},"axis":null},
    "text":{"field":"name"}}},
  {"data":{"values":[{"t":"C."}]},
   "mark":{"type":"text","fontSize":26,"align":"left","dy":-37},
   "encoding":{
    "x":{"datum":-21.48,"type":"quantitative","scale":{"domain":[0,43],"range":[314,912.6],"nice":false,"zero":false},"axis":null},
    "y":{"datum":"PRE-1","type":"nominal","scale":{"type":"band","domain":["PRE-1","PRE-1-rho"],"range":[1170,1239],"paddingInner":0.0286,"paddingOuter":0},"axis":null},
    "text":{"field":"t"}}}
 ]}
]
}
